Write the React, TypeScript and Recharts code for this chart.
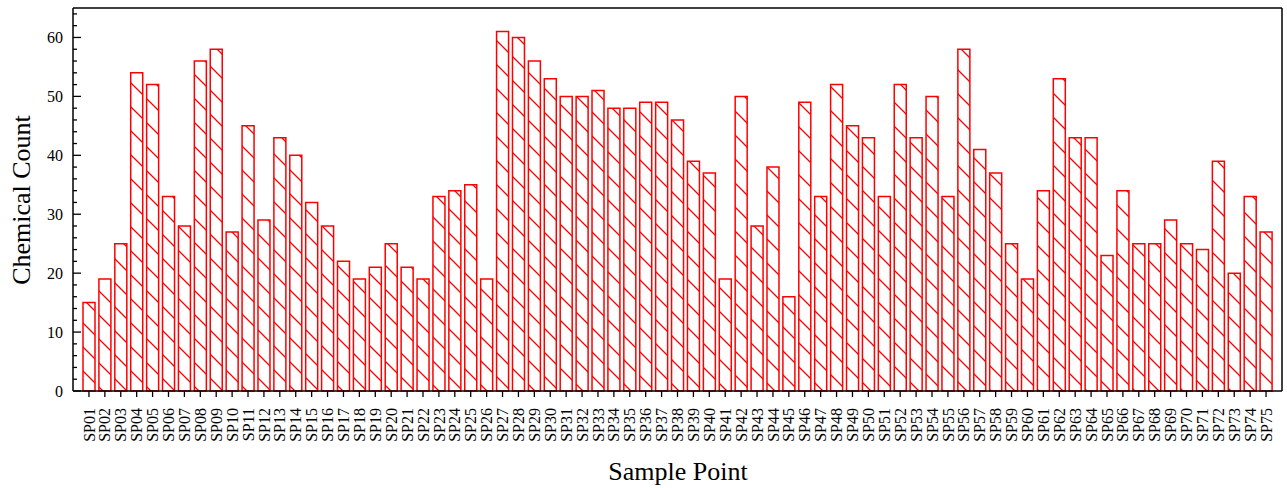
import React from 'react';
import { BarChart, Bar, XAxis, YAxis } from 'recharts';

const samplePoints = [
  'SP01', 'SP02', 'SP03', 'SP04', 'SP05', 'SP06', 'SP07', 'SP08', 'SP09', 'SP10',
  'SP11', 'SP12', 'SP13', 'SP14', 'SP15', 'SP16', 'SP17', 'SP18', 'SP19', 'SP20',
  'SP21', 'SP22', 'SP23', 'SP24', 'SP25', 'SP26', 'SP27', 'SP28', 'SP29', 'SP30',
  'SP31', 'SP32', 'SP33', 'SP34', 'SP35', 'SP36', 'SP37', 'SP38', 'SP39', 'SP40',
  'SP41', 'SP42', 'SP43', 'SP44', 'SP45', 'SP46', 'SP47', 'SP48', 'SP49', 'SP50',
  'SP51', 'SP52', 'SP53', 'SP54', 'SP55', 'SP56', 'SP57', 'SP58', 'SP59', 'SP60',
  'SP61', 'SP62', 'SP63', 'SP64', 'SP65', 'SP66', 'SP67', 'SP68', 'SP69', 'SP70',
  'SP71', 'SP72', 'SP73', 'SP74', 'SP75',
];

const chemicalCounts = [
  15, 19, 25, 54, 52, 33, 28, 56, 58, 27,
  45, 29, 43, 40, 32, 28, 22, 19, 21, 25,
  21, 19, 33, 34, 35, 19, 61, 60, 56, 53,
  50, 50, 51, 48, 48, 49, 49, 46, 39, 37,
  19, 50, 28, 38, 16, 49, 33, 52, 45, 43,
  33, 52, 43, 50, 33, 58, 41, 37, 25, 19,
  34, 53, 43, 43, 23, 34, 25, 25, 29, 25,
  24, 39, 20, 33, 27,
];

// every 2 units; the multiples of 10 get a label and a longer tick
const yTicks = [0, 2, 4, 6, 8, 10, 12, 14, 16, 18, 20, 22, 24, 26, 28, 30, 32, 34, 36, 38, 40, 42, 44, 46, 48, 50, 52, 54, 56, 58, 60, 62, 64];
const yLabelled = [0, 10, 20, 30, 40, 50, 60];

const data = samplePoints.map((name, i) => ({ name, count: chemicalCounts[i] }));

const FONT = '"Liberation Serif", "Times New Roman", serif';
const RED = '#ff0000';

const YTick = (props: any) => {
  const { x, y, payload } = props;
  const major = yLabelled.includes(payload.value);
  const ax = x + 10;
  return (
    <g>
      <line x1={ax} y1={y} x2={ax + (major ? 8 : 4)} y2={y} stroke="#000" strokeWidth={1.3} />
      {major && (
        <text x={x} y={y} dy="0.35em" textAnchor="end" fontFamily={FONT} fontSize={16} fill="#000">
          {payload.value}
        </text>
      )}
    </g>
  );
};

const XTick = (props: any) => {
  const { x, y, payload } = props;
  return (
    <g transform={`translate(${x},${y})`}>
      <text transform="rotate(-90)" x={0} y={0} dy="0.35em" textAnchor="end" fontFamily={FONT} fontSize={16} fill="#000">
        {payload.value}
      </text>
    </g>
  );
};

export default function App() {
  return (
    <div style={{ position: 'absolute', left: 0, top: 0, width: 1287, height: 488, background: '#fff' }}>
      <BarChart
        width={1287}
        height={488}
        data={data}
        margin={{ top: 7, right: 4, left: 13, bottom: 37 }}
        barSize={12}
      >
        <defs>
          <pattern id="hatch" patternUnits="userSpaceOnUse" width={24} height={24}>
            <rect width={24} height={24} fill="#fff" />
            <path d="M0,0 L24,24 M-6,18 L6,30 M18,-6 L30,6" stroke={RED} strokeWidth={1.3} />
          </pattern>
        </defs>
        <XAxis
          dataKey="name"
          interval={0}
          padding={{ left: 8, right: 8 }}
          height={60}
          tickSize={6}
          tickMargin={11}
          tickLine={{ stroke: '#000', strokeWidth: 1.3 }}
          axisLine={{ stroke: '#000', strokeWidth: 1.5 }}
          tick={<XTick />}
        />
        <XAxis xAxisId="top" dataKey="name" orientation="top" height={1} tick={false} tickLine={false} axisLine={{ stroke: '#000', strokeWidth: 1.5 }} />
        <YAxis
          domain={[0, 65]}
          ticks={yTicks}
          interval={0}
          width={60}
          tickSize={0}
          tickMargin={10}
          axisLine={{ stroke: '#000', strokeWidth: 1.5 }}
          tick={<YTick />}
        />
        <YAxis yAxisId="right" orientation="right" domain={[0, 65]} width={1} tick={false} tickLine={false} axisLine={{ stroke: '#000', strokeWidth: 1.5 }} />
        <Bar dataKey="count" fill="url(#hatch)" stroke={RED} strokeWidth={1.5} isAnimationActive={false} />
      </BarChart>
      <div
        style={{
          position: 'absolute', left: 22, top: 200, transform: 'translate(-50%, -50%) rotate(-90deg)',
          fontFamily: FONT, fontSize: 26, whiteSpace: 'nowrap', color: '#000',
        }}
      >
        Chemical Count
      </div>
      <div
        style={{
          position: 'absolute', left: 678, top: 472, transform: 'translate(-50%, -50%)',
          fontFamily: FONT, fontSize: 26, whiteSpace: 'nowrap', color: '#000',
        }}
      >
        Sample Point
      </div>
    </div>
  );
}
